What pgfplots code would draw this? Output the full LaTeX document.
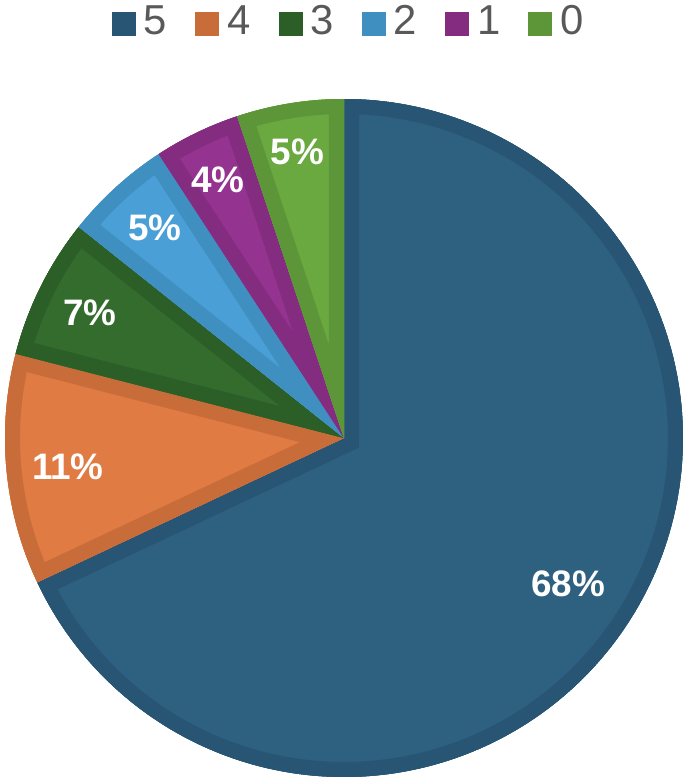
\documentclass[border=0pt]{standalone}
\usepackage{pgfplots}
\pgfplotsset{compat=1.18}
\usepgfplotslibrary{polar}
\usepackage{fontspec}
\setmainfont{Liberation Sans}
\definecolor{a5}{HTML}{2E6080}\definecolor{b5}{HTML}{285573}
\definecolor{a4}{HTML}{E07B44}\definecolor{b4}{HTML}{C86C3A}
\definecolor{a3}{HTML}{346C2E}\definecolor{b3}{HTML}{2C5E28}
\definecolor{a2}{HTML}{4AA0D6}\definecolor{b2}{HTML}{408FC1}
\definecolor{a1}{HTML}{943490}\definecolor{b1}{HTML}{832C80}
\definecolor{a0}{HTML}{6AA840}\definecolor{b0}{HTML}{5C9638}
\definecolor{leggray}{HTML}{595959}
\tikzset{lab/.style={text=white, font=\fontsize{37}{37}\selectfont\bfseries}}
% slice: light colour, band colour, cumulative start share, cumulative end share (percent)
\newcommand{\slice}[4]{%
  \addplot[forget plot, fill=#1, draw=none,
    postaction={clip, postaction={draw=#2, line width=30bp}},
    domain={90-3.6*(#4)}:{90-3.6*(#3)}, samples=181] {1} -- (axis cs:0,0) -- cycle;}
\begin{document}
\begin{tikzpicture}
\path[use as bounding box] (0,0) rectangle (685bp,782bp);
\begin{polaraxis}[
  at={(344bp,344bp)}, anchor=center,
  scale only axis, width=678bp, height=678bp,
  ymin=0, ymax=1, hide axis, clip=false,
]
% shares: 5 = 68, 4 = 11, 3 = 6.7, 2 = 5.1, 1 = 4.1, 0 = 5.1
\slice{a5}{b5}{0}{68}
\slice{a4}{b4}{68}{79}
\slice{a3}{b3}{79}{85.7}
\slice{a2}{b2}{85.7}{90.8}
\slice{a1}{b1}{90.8}{94.9}
\slice{a0}{b0}{94.9}{100}
\node[lab] at (axis cs:-33.1,0.789) {68\%};
\node[lab] at (axis cs:186,0.819) {11\%};
\node[lab] at (axis cs:153.8,0.835) {7\%};
\node[lab] at (axis cs:132,0.833) {5\%};
\node[lab] at (axis cs:116,0.847) {4\%};
\node[lab] at (axis cs:99.3,0.855) {5\%};
\end{polaraxis}
\begin{axis}[
  at={(0bp,0bp)}, anchor=south west,
  scale only axis, width=685bp, height=782bp,
  xmin=0, xmax=1, ymin=0, ymax=1, hide axis,
  legend columns=6,
  legend style={at={(axis description cs:0.1226,0.9936)}, anchor=north west,
    draw=none, fill=none, inner sep=0pt, outer sep=0pt,
    font=\fontsize{42}{42}\selectfont, text=leggray,
    nodes={inner sep=0pt, text height=30bp, text depth=0bp}, column sep=0pt},
  legend cell align=left,
  legend image code/.code={\path[draw=none,fill=none] (-28bp,0) -- (32bp,0); \fill[#1] (0bp,-16bp) rectangle (24bp,8bp);},
]
\addlegendimage{draw=none, fill=b5}\addlegendentry{5}
\addlegendimage{draw=none, fill=b4}\addlegendentry{4}
\addlegendimage{draw=none, fill=b3}\addlegendentry{3}
\addlegendimage{draw=none, fill=b2}\addlegendentry{2}
\addlegendimage{draw=none, fill=b1}\addlegendentry{1}
\addlegendimage{draw=none, fill=b0}\addlegendentry{0}
\end{axis}
\end{tikzpicture}
\end{document}
